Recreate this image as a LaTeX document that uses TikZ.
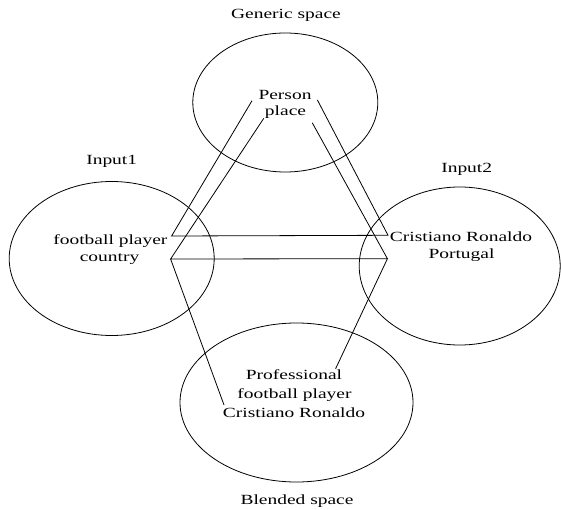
\documentclass[tikz,border=0pt]{standalone}
\usepackage{fontspec}
\setmainfont{Liberation Serif}
\newfontfamily\lblfont[FakeStretch=1.39]{Liberation Serif}
\usetikzlibrary{shapes.geometric}
\begin{document}
\begin{tikzpicture}[x=1pt,y=-1pt,
  space/.style={draw, ellipse, line width=0.8pt, inner sep=0pt},
  txt/.style={anchor=base, inner sep=0pt, font=\lblfont\fontsize{14}{17.5}\selectfont},
  link/.style={line width=0.8pt}]
\useasboundingbox (0,0) rectangle (561,510);

% the four mental spaces
\node[space, minimum width=185pt, minimum height=139pt] (gen)   at (285.3,102.5) {};
\node[space, minimum width=205pt, minimum height=154pt] (in1)   at (111.7,258.5) {};
\node[space, minimum width=201pt, minimum height=158pt] (in2)   at (459.7,266)   {};
\node[space, minimum width=233pt, minimum height=159pt] (blend) at (296.5,402.5) {};

% space titles
\node[txt] (genT)   at (286,18.3)   {Generic space};
\node[txt] (in1T)   at (111.7,165)  {Input1};
\node[txt] (in2T)   at (466.7,173)  {Input2};
\node[txt] (blendT) at (297,504)    {Blended space};

% space contents
\node[txt] (person)  at (285,99.3)    {Person};
\node[txt] (place)   at (285.5,116)   {place};
\node[txt] (fp)      at (110.4,244.3) {football player};
\node[txt] (country) at (109.5,261.7) {country};
\node[txt] (cr)      at (461,241)     {Cristiano Ronaldo};
\node[txt] (pt)      at (461.5,258.7) {Portugal};
\node[txt] (prof)    at (294,379.3)   {Professional};
\node[txt] (fp2)     at (294.5,398.7) {football player};
\node[txt] (cr2)     at (294,417)     {Cristiano Ronaldo};

% connection ports beside the texts
\coordinate (personL) at ([shift={(-6.3,1.4)}]person.base west);
\coordinate (personR) at ([shift={(5.7,0.7)}]person.base east);
\coordinate (placeL)  at ([shift={(-1,2.3)}]place.base west);
\coordinate (placeR)  at ([shift={(6,6.7)}]place.base east);
\coordinate (in1Top)  at ([shift={(4,-8.3)}]fp.base east);
\coordinate (in1Bot)  at ([shift={(3,14.7)}]fp.base east);
\coordinate (in2Top)  at ([shift={(-1.7,-5.7)}]cr.base west);
\coordinate (in2Bot)  at ([shift={(-2.3,17.7)}]cr.base west);
\coordinate (profR)   at ([shift={(-6.7,-10.6)}]prof.base east);
\coordinate (cr2L)    at ([shift={(1.3,-12)}]cr2.base west);

% cross-space mappings
\draw[link] (personL) -- (in1Top) -- (in2Top) -- (personR);
\draw[link] (placeL) -- (in1Bot) -- (in2Bot) -- (placeR);
\draw[link] (in1Bot) -- (cr2L);
\draw[link] (in2Bot) -- (profR);
\end{tikzpicture}
\end{document}
